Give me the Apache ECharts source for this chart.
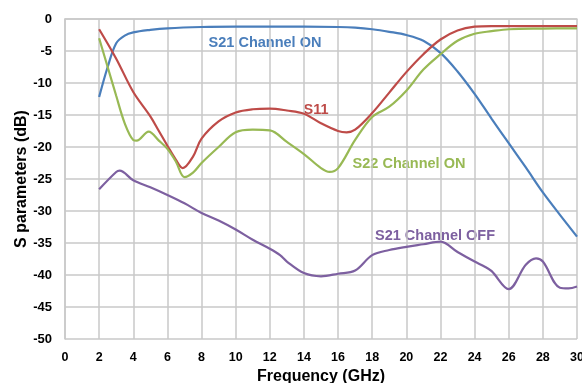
<!DOCTYPE html>
<html>
<head>
<meta charset="utf-8">
<script src="https://cdn.jsdelivr.net/npm/echarts@6/dist/echarts.min.js"></script>
<style>html,body{margin:0;padding:0;background:#fff}#c{width:582px;height:383px}</style>
</head>
<body>
<div id="c"></div>
<script>
// Frequency (GHz) and S-parameter (dB) values
const s21OnX = [2, 2.5, 3, 3.5, 4, 5, 6, 8, 10, 12, 14, 16, 17, 18, 19, 20, 21, 22, 23, 24, 25, 26, 27, 28, 29, 30];
const s21OnY = [-12.2, -7.5, -3.8, -2.6, -2.1, -1.7, -1.45, -1.25, -1.2, -1.2, -1.2, -1.25, -1.35, -1.6, -2.0, -2.5, -3.4, -5.3, -8.2, -11.7, -15.6, -19.4, -23.2, -27.1, -30.6, -34.0];

const s11X = [2, 3, 4, 5, 5.5, 6, 6.5, 6.9, 7.5, 8, 9, 10, 11, 12, 13, 14, 15, 16, 16.5, 17, 18, 19, 20, 21, 22, 23, 24, 25, 26, 28, 30];
const s11Y = [-1.6, -6.2, -11.4, -15.2, -17.5, -19.8, -22.0, -23.3, -21.5, -18.7, -16.0, -14.6, -14.1, -14.0, -14.3, -14.8, -16.3, -17.5, -17.7, -17.3, -14.7, -11.5, -8.3, -5.5, -3.2, -1.8, -1.2, -1.1, -1.1, -1.1, -1.1];

const s22X = [2, 2.5, 3, 3.5, 4, 4.2, 4.9, 5.5, 6, 6.5, 7, 7.5, 8, 9, 10, 11, 12, 13, 14, 15, 15.5, 16, 17, 18, 19, 20, 21, 22, 23, 24, 25, 26, 28, 30];
const s22Y = [-3.0, -7.5, -12.0, -16.3, -18.9, -19.0, -17.6, -19.0, -20.3, -22.3, -24.7, -24.0, -22.5, -20.0, -17.7, -17.3, -17.4, -19.2, -21.1, -23.3, -23.9, -23.3, -18.9, -15.3, -13.7, -11.2, -7.9, -5.5, -3.4, -2.3, -1.9, -1.6, -1.5, -1.45];

const s21OffX = [2, 3, 3.2, 4, 5, 6, 7, 8, 9, 10, 11, 12, 12.6, 13, 14, 15, 16, 17, 18, 19, 20, 21, 22, 23, 24, 24.6, 25, 26, 27, 27.6, 28, 29, 29.5, 30];
const s21OffY = [-26.6, -23.9, -23.7, -25.2, -26.3, -27.5, -28.8, -30.3, -31.5, -32.9, -34.5, -35.9, -36.9, -37.9, -39.7, -40.2, -39.8, -39.3, -36.9, -36.1, -35.6, -35.2, -34.8, -36.4, -37.9, -38.7, -39.4, -42.2, -38.4, -37.4, -37.9, -42.0, -42.1, -41.8];

const seriesNames = ['S21 Channel ON', 'S11', 'S22 Channel ON', 'S21 Channel OFF'];
const xTickMin = 0, xTickMax = 30, xTickStep = 2;
const yTickMin = -50, yTickMax = 0, yTickStep = 5;
const xTitle = 'Frequency (GHz)';
const yTitle = 'S parameters (dB)';

const colors = ['#4a7ebb', '#be4b48', '#98b954', '#7d60a0'];
const pairs = (xs, ys) => xs.map((x, i) => [x, ys[i]]);
const seriesData = [pairs(s21OnX, s21OnY), pairs(s11X, s11Y), pairs(s22X, s22Y), pairs(s21OffX, s21OffY)];

const font = '"Liberation Sans", Arial, sans-serif';
const gridColor = '#c9c9c9';
const chart = echarts.init(document.getElementById('c'), null, {renderer: 'canvas'});
chart.setOption({
  animation: false,
  backgroundColor: '#ffffff',
  grid: {left: 65, right: 5, top: 19, bottom: 44, containLabel: false, outerBoundsMode: 'none'},
  xAxis: {
    type: 'value', min: xTickMin, max: xTickMax, interval: xTickStep,
    name: xTitle, nameLocation: 'middle', nameGap: 30, nameMoveOverlap: false,
    nameTextStyle: {fontFamily: font, fontWeight: 'bold', fontSize: 16, color: '#000'},
    axisLine: {show: true, lineStyle: {color: gridColor, width: 1.5}},
    axisTick: {show: false},
    axisLabel: {fontFamily: font, fontWeight: 'bold', fontSize: 12.5, color: '#000', margin: 12},
    splitLine: {show: true, lineStyle: {color: gridColor, width: 1.5}}
  },
  yAxis: {
    type: 'value', min: yTickMin, max: yTickMax, interval: yTickStep,
    name: yTitle, nameLocation: 'middle', nameGap: 35, nameRotate: 90, nameMoveOverlap: false,
    nameTextStyle: {fontFamily: font, fontWeight: 'bold', fontSize: 16, color: '#000'},
    axisLine: {show: true, lineStyle: {color: gridColor, width: 1.5}},
    axisTick: {show: false},
    axisLabel: {fontFamily: font, fontWeight: 'bold', fontSize: 13, color: '#000', margin: 13},
    splitLine: {show: true, lineStyle: {color: gridColor, width: 1.5}}
  },
  series: seriesData.map((d, i) => ({
    name: seriesNames[i], type: 'line', data: d, smooth: 0.35,
    showSymbol: false, symbol: 'none',
    lineStyle: {color: colors[i], width: 2.2},
    z: 3 + i
  })),
  graphic: [
    {type: 'text', x: 265, y: 43, style: {text: seriesNames[0], fill: colors[0], font: 'bold 14.5px ' + font, textAlign: 'center', textVerticalAlign: 'middle'}},
    {type: 'text', x: 316, y: 110, style: {text: seriesNames[1], fill: colors[1], font: 'bold 14.5px ' + font, textAlign: 'center', textVerticalAlign: 'middle'}},
    {type: 'text', x: 409, y: 164, style: {text: seriesNames[2], fill: colors[2], font: 'bold 14.5px ' + font, textAlign: 'center', textVerticalAlign: 'middle'}},
    {type: 'text', x: 435, y: 236, style: {text: seriesNames[3], fill: colors[3], font: 'bold 14.5px ' + font, textAlign: 'center', textVerticalAlign: 'middle'}}
  ]
});
</script>
</body>
</html>
